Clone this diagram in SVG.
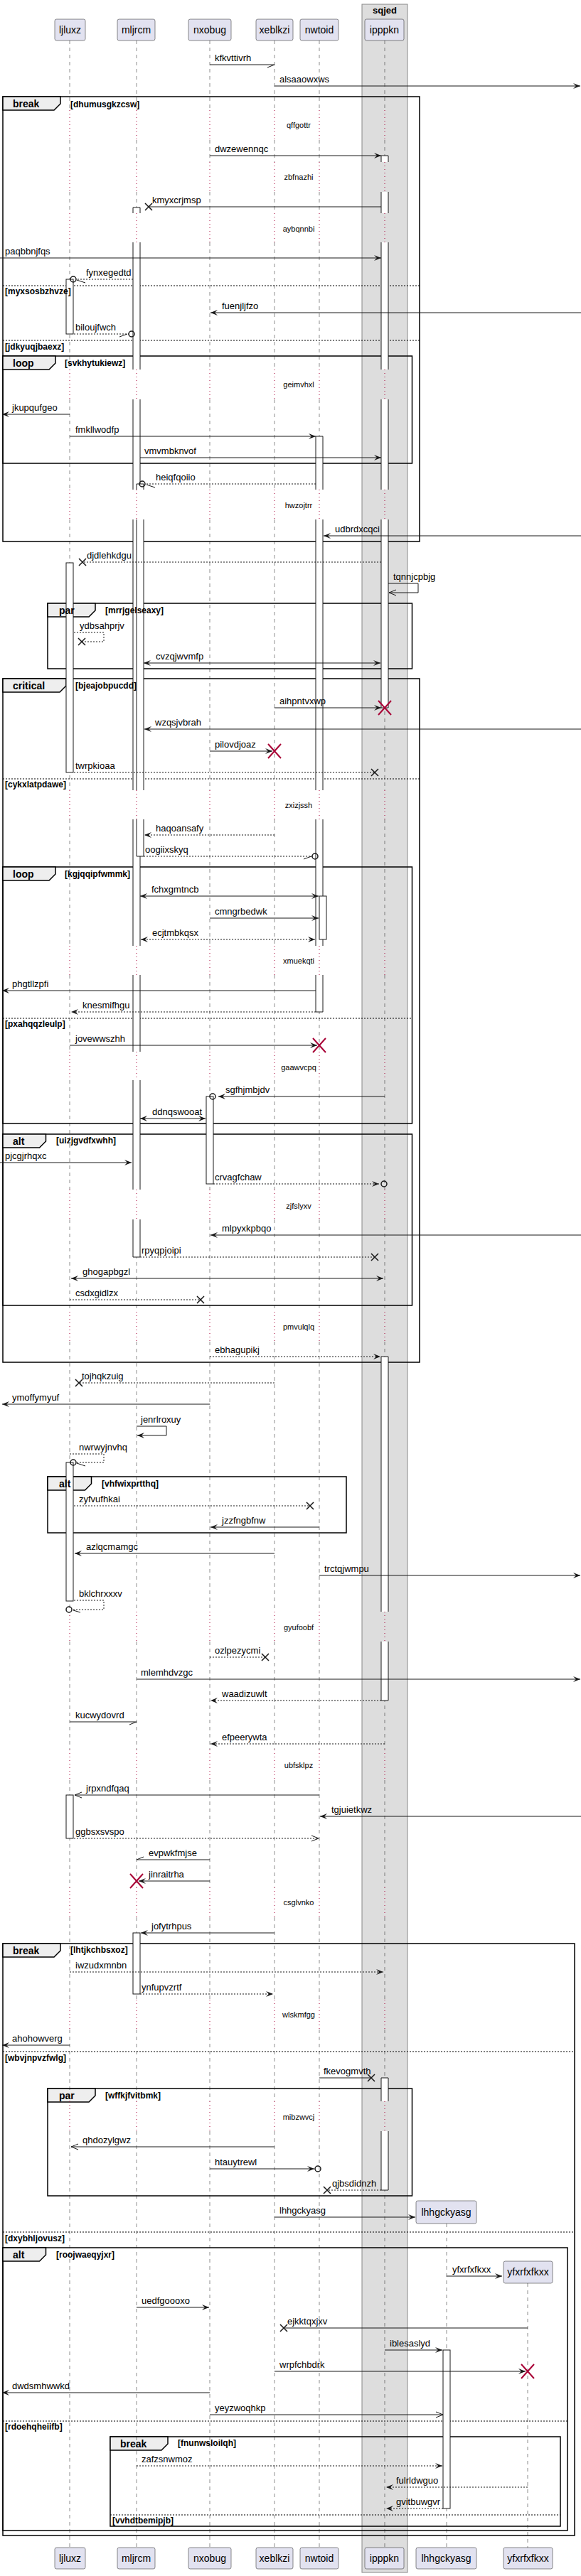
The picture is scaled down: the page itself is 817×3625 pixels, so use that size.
<svg xmlns="http://www.w3.org/2000/svg" xmlns:xlink="http://www.w3.org/1999/xlink" width="817" height="3625" viewBox="0 0 817 3625">
<style>
text{font-family:"Liberation Sans",Arial,sans-serif;font-size:13px;fill:#000}
.pt{font-size:14px;text-anchor:middle}
.dt{font-size:11px;text-anchor:middle}
.fl{font-size:14px;font-weight:bold}
.cd{font-size:12px;font-weight:bold}
.bt{font-size:13px;font-weight:bold;text-anchor:middle}
.p{fill:#E2E2F0;stroke:#181818;stroke-width:0.5}
.life{stroke:#181818;stroke-width:0.5;stroke-dasharray:5,5;fill:none}
.dly{stroke:#A80036;stroke-width:1;stroke-dasharray:1,4;fill:none}
.act{fill:#fff;stroke:#181818;stroke-width:1}
.af{fill:#fff;stroke:none}
.al{stroke:#181818;stroke-width:1;fill:none}
.m{stroke:#181818;stroke-width:1;fill:none}
.d{stroke-dasharray:2,2}
.fr{fill:none;stroke:#000;stroke-width:1.5}
.tab{fill:#EEEEEE;stroke:#000;stroke-width:1.5}
.el{stroke:#000;stroke-width:1;stroke-dasharray:2,2}
.x{stroke:#181818;stroke-width:1.5;fill:none}
.rx{stroke:#A80036;stroke-width:2;fill:none}
.o{fill:none;stroke:#181818;stroke-width:1.5}
</style>
<defs>
<marker id="fa" viewBox="0 0 10 8" refX="10" refY="4" markerWidth="10" markerHeight="8" markerUnits="userSpaceOnUse" orient="auto-start-reverse" overflow="visible"><path d="M0,0 L10,4 L0,8 L4,4 Z" fill="#181818"/></marker>
<marker id="oa" viewBox="0 0 10 8" refX="10" refY="4" markerWidth="10" markerHeight="8" markerUnits="userSpaceOnUse" orient="auto" overflow="visible"><path d="M0,0 L10,4 L0,8" fill="none" stroke="#181818" stroke-width="1"/></marker>
<marker id="ha" viewBox="0 0 10 8" refX="10" refY="4" markerWidth="10" markerHeight="8" markerUnits="userSpaceOnUse" orient="auto" overflow="visible"><path d="M0,8 L10,4" fill="none" stroke="#181818" stroke-width="1"/></marker>
<path id="ll" d="M0 57V155M0 197V228M0 270V300M0 341V520M0 562V689M0 731V1112M0 1153V1331M0 1372V1480M0 1520V1674M0 1716V1846M0 1888V2268M0 2310V2462M0 2505V2656M0 2698V2814M0 2856V2957M0 2999V3585"/>
<path id="dl" d="M0 155V197M0 228V270M0 300V341M0 520V562M0 689V731M0 1112V1153M0 1331V1372M0 1480V1520M0 1674V1716M0 1846V1888M0 2268V2310M0 2462V2505M0 2656V2698M0 2814V2856M0 2957V2999"/>
</defs>
<rect x="0" y="0" width="817" height="3625" fill="#fff"/>
<g id="box-sqjed">
<rect x="509" y="6" width="64" height="3614" fill="#DDDDDD" stroke="#888" stroke-width="1"/>
<text class="bt" x="541" y="19">sqjed</text>
</g>
<g id="frames">
<g id="f-break1">
<rect class="fr" x="4" y="136" width="586" height="626"/>
<path class="tab" d="M4 136H85V146L76 155H4Z"/>
<line class="el" x1="4" y1="402" x2="590" y2="402"/>
<line class="el" x1="4" y1="479" x2="590" y2="479"/>
</g>
<g id="f-loop1">
<rect class="fr" x="4" y="501" width="575.5" height="151"/>
<path class="tab" d="M4 501H78V511L69 520H4Z"/>
</g>
<g id="f-par1">
<rect class="fr" x="67" y="849" width="512.5" height="92"/>
<path class="tab" d="M67 849H134V859L125 868H67Z"/>
</g>
<g id="f-critical">
<rect class="fr" x="4" y="955" width="586" height="962"/>
<path class="tab" d="M4 955H93V965L84 974H4Z"/>
<line class="el" x1="4" y1="1096" x2="590" y2="1096"/>
</g>
<g id="f-loop2">
<rect class="fr" x="4" y="1220" width="575.5" height="361"/>
<path class="tab" d="M4 1220H78V1230L69 1239H4Z"/>
<line class="el" x1="4" y1="1433" x2="579.5" y2="1433"/>
</g>
<g id="f-alt1">
<rect class="fr" x="4" y="1596" width="575.5" height="241"/>
<path class="tab" d="M4 1596H64.5V1606L55.5 1615H4Z"/>
</g>
<g id="f-alt2">
<rect class="fr" x="67" y="2078" width="420" height="79"/>
<path class="tab" d="M67 2078H128.5V2088L119.5 2097H67Z"/>
</g>
<g id="f-break2">
<rect class="fr" x="4" y="2735" width="804" height="833"/>
<path class="tab" d="M4 2735H85V2745L76 2754H4Z"/>
<line class="el" x1="4" y1="2887" x2="808" y2="2887"/>
<line class="el" x1="4" y1="3141" x2="808" y2="3141"/>
</g>
<g id="f-par2">
<rect class="fr" x="67" y="2939" width="512.5" height="151"/>
<path class="tab" d="M67 2939H134V2949L125 2958H67Z"/>
</g>
<g id="f-alt3">
<rect class="fr" x="4" y="3163" width="794" height="398"/>
<path class="tab" d="M4 3163H64.5V3173L55.5 3182H4Z"/>
<line class="el" x1="4" y1="3407" x2="798" y2="3407"/>
</g>
<g id="f-break3">
<rect class="fr" x="155" y="3429" width="633" height="126"/>
<path class="tab" d="M155 3429H236V3439L227 3448H155Z"/>
<line class="el" x1="155" y1="3539" x2="788" y2="3539"/>
</g>
</g>
<g id="ljluxz">
<use href="#ll" x="98" class="life"/><use href="#dl" x="98" class="dly"/>
<rect class="p" x="77" y="27" width="43" height="30" rx="2.5"/><text class="pt" x="98.5" y="47">ljluxz</text>
<rect class="p" x="77" y="3585" width="43" height="30" rx="2.5"/><text class="pt" x="98.5" y="3605">ljluxz</text>
<rect class="act" x="93" y="393" width="10" height="77"/>
<rect class="act" x="93" y="792" width="10" height="295"/>
<rect class="act" x="93" y="2058" width="10" height="195"/>
<rect class="act" x="93" y="2526" width="10" height="61"/>
</g>
<g id="mljrcm">
<use href="#ll" x="192" class="life"/><use href="#dl" x="192" class="dly"/>
<rect class="p" x="165" y="27" width="53" height="30" rx="2.5"/><text class="pt" x="191.5" y="47">mljrcm</text>
<rect class="p" x="165" y="3585" width="53" height="30" rx="2.5"/><text class="pt" x="191.5" y="3605">mljrcm</text>
<rect class="af" x="187" y="292" width="10" height="8"/><rect class="af" x="187" y="341" width="10" height="179"/><rect class="af" x="187" y="562" width="10" height="127"/><rect class="af" x="187" y="731" width="10" height="381"/><rect class="af" x="187" y="1153" width="10" height="178"/><rect class="af" x="187" y="1372" width="10" height="108"/><rect class="af" x="187" y="1520" width="10" height="154"/><rect class="af" x="187" y="1716" width="10" height="53"/>
<path class="al" d="M187 292H197M187 292V300M197 292V300M187 341V520M197 341V520M187 562V689M197 562V689M187 731V1112M197 731V1112M187 1153V1331M197 1153V1331M187 1372V1480M197 1372V1480M187 1520V1674M197 1520V1674M187 1716V1769M197 1716V1769M187 1769H197"/>
<rect class="af" x="192" y="681" width="10" height="8"/><rect class="af" x="192" y="731" width="10" height="381"/><rect class="af" x="192" y="1153" width="10" height="52"/>
<path class="al" d="M192 681H202M192 681V689M202 681V689M192 731V1112M202 731V1112M192 1153V1205M202 1153V1205M192 1205H202"/>
<rect class="act" x="187" y="2720" width="10" height="86"/>
</g>
<g id="nxobug">
<use href="#ll" x="295" class="life"/><use href="#dl" x="295" class="dly"/>
<rect class="p" x="265" y="27" width="60" height="30" rx="2.5"/><text class="pt" x="295" y="47">nxobug</text>
<rect class="p" x="265" y="3585" width="60" height="30" rx="2.5"/><text class="pt" x="295" y="3605">nxobug</text>
<rect class="act" x="290" y="1543" width="10" height="123"/>
</g>
<g id="xeblkzi">
<use href="#ll" x="386" class="life"/><use href="#dl" x="386" class="dly"/>
<rect class="p" x="360" y="27" width="52" height="30" rx="2.5"/><text class="pt" x="386" y="47">xeblkzi</text>
<rect class="p" x="360" y="3585" width="52" height="30" rx="2.5"/><text class="pt" x="386" y="3605">xeblkzi</text>
</g>
<g id="nwtoid">
<use href="#ll" x="449" class="life"/><use href="#dl" x="449" class="dly"/>
<rect class="p" x="422" y="27" width="54" height="30" rx="2.5"/><text class="pt" x="449" y="47">nwtoid</text>
<rect class="p" x="422" y="3585" width="54" height="30" rx="2.5"/><text class="pt" x="449" y="3605">nwtoid</text>
<rect class="af" x="444" y="614" width="10" height="75"/><rect class="af" x="444" y="731" width="10" height="381"/><rect class="af" x="444" y="1153" width="10" height="178"/><rect class="af" x="444" y="1372" width="10" height="52"/>
<path class="al" d="M444 614H454M444 614V689M454 614V689M444 731V1112M454 731V1112M444 1153V1331M454 1153V1331M444 1372V1424M454 1372V1424M444 1424H454"/>
<rect class="act" x="449" y="1261" width="10" height="61"/>
</g>
<g id="ipppkn">
<use href="#ll" x="541" class="life"/><use href="#dl" x="541" class="dly"/>
<rect class="p" x="513" y="27" width="55" height="30" rx="2.5"/><text class="pt" x="540.5" y="47">ipppkn</text>
<rect class="p" x="513" y="3585" width="55" height="30" rx="2.5"/><text class="pt" x="540.5" y="3605">ipppkn</text>
<rect class="af" x="536" y="219" width="10" height="9"/><rect class="af" x="536" y="270" width="10" height="30"/><rect class="af" x="536" y="341" width="10" height="179"/><rect class="af" x="536" y="562" width="10" height="127"/><rect class="af" x="536" y="731" width="10" height="265"/>
<path class="al" d="M536 219H546M536 219V228M546 219V228M536 270V300M546 270V300M536 341V520M546 341V520M536 562V689M546 562V689M536 731V996M546 731V996M536 996H546"/>
<rect class="af" x="536" y="1909" width="10" height="359"/><rect class="af" x="536" y="2310" width="10" height="83"/>
<path class="al" d="M536 1909H546M536 1909V2268M546 1909V2268M536 2310V2393M546 2310V2393M536 2393H546"/>
<rect class="af" x="536" y="2924" width="10" height="33"/><rect class="af" x="536" y="2999" width="10" height="83"/>
<path class="al" d="M536 2924H546M536 2924V2957M546 2924V2957M536 2999V3082M546 2999V3082M536 3082H546"/>
</g>
<g id="lhhgckyasg">
<line class="life" x1="628" y1="3129" x2="628" y2="3585"/>
<rect class="p" x="585" y="3097" width="85" height="32" rx="2.5"/><text class="pt" x="627.5" y="3118">lhhgckyasg</text>
<rect class="p" x="585" y="3585" width="85" height="30" rx="2.5"/><text class="pt" x="627.5" y="3605">lhhgckyasg</text>
<rect class="act" x="623" y="3307" width="10" height="223"/>
</g>
<g id="yfxrfxfkxx">
<line class="life" x1="742" y1="3213" x2="742" y2="3585"/>
<rect class="p" x="708" y="3182" width="69" height="31" rx="2.5"/><text class="pt" x="742.5" y="3202">yfxrfxfkxx</text>
<rect class="p" x="708" y="3585" width="69" height="30" rx="2.5"/><text class="pt" x="742.5" y="3605">yfxrfxfkxx</text>
</g>
<g id="frame-labels">
<text class="fl" x="18" y="151">break</text><text class="cd" x="99" y="151">[dhumusgkzcsw]</text>
<text class="cd" x="7" y="414">[myxsosbzhvze]</text>
<text class="cd" x="7" y="492">[jdkyuqjbaexz]</text>
<text class="fl" x="18" y="516">loop</text><text class="cd" x="91" y="515">[svkhytukiewz]</text>
<text class="fl" x="83" y="864">par</text><text class="cd" x="148" y="863">[mrrjgelseaxy]</text>
<text class="fl" x="18" y="970">critical</text><text class="cd" x="106" y="969">[bjeajobpucdd]</text>
<text class="cd" x="7" y="1108">[cykxlatpdawe]</text>
<text class="fl" x="18" y="1235">loop</text><text class="cd" x="91" y="1234">[kgjqqipfwmmk]</text>
<text class="cd" x="7" y="1445">[pxahqqzleulp]</text>
<text class="fl" x="18" y="1611">alt</text><text class="cd" x="79" y="1609">[uizjgvdfxwhh]</text>
<text class="fl" x="83" y="2093">alt</text><text class="cd" x="143" y="2092">[vhfwixprtthq]</text>
<text class="fl" x="18" y="2750">break</text><text class="cd" x="99" y="2748">[lhtjkchbsxoz]</text>
<text class="cd" x="7" y="2900">[wbvjnpvzfwlg]</text>
<text class="cd" x="7" y="3154">[dxybhljovusz]</text>
<text class="fl" x="83" y="2954">par</text><text class="cd" x="148" y="2953">[wffkjfvitbmk]</text>
<text class="fl" x="18" y="3178">alt</text><text class="cd" x="79" y="3177">[roojwaeqyjxr]</text>
<text class="cd" x="7" y="3419">[rdoehqheiifb]</text>
<text class="fl" x="169" y="3444">break</text><text class="cd" x="250" y="3442">[fnunwsloilqh]</text>
<text class="cd" x="158" y="3551">[vvhdtbemipjb]</text>
</g>
<g id="delays">
<text class="dt" x="420" y="180">qffgottr</text>
<text class="dt" x="420" y="253">zbfnazhi</text>
<text class="dt" x="420" y="326">aybqnnbi</text>
<text class="dt" x="420" y="545">geimvhxl</text>
<text class="dt" x="420" y="715">hwzojtrr</text>
<text class="dt" x="420" y="1137">zxizjssh</text>
<text class="dt" x="420" y="1356">xmuekqti</text>
<text class="dt" x="420" y="1506">gaawvcpq</text>
<text class="dt" x="420" y="1701">zjfslyxv</text>
<text class="dt" x="420" y="1871">pmvulqlq</text>
<text class="dt" x="420" y="2294">gyufoobf</text>
<text class="dt" x="420" y="2488">ubfsklpz</text>
<text class="dt" x="420" y="2681">csglvnko</text>
<text class="dt" x="420" y="2839">wlskmfgg</text>
<text class="dt" x="420" y="2983">mibzwvcj</text>
</g>
<g id="connectors">
<line class="m" x1="295" y1="91" x2="386" y2="91" marker-end="url(#ha)"/><text x="302" y="86">kfkvttivrh</text>
<line class="m" x1="386" y1="121" x2="816" y2="121" marker-end="url(#fa)"/><text x="393" y="116">alsaaowxws</text>
<line class="m" x1="295" y1="219" x2="536" y2="219" marker-end="url(#fa)"/><text x="302" y="214">dwzewennqc</text>
<line class="m" x1="536" y1="291" x2="209" y2="291"/><path class="x" d="M204 286L214 296M204 296L214 286"/><text x="214" y="286">kmyxcrjmsp</text>
<line class="m" x1="0" y1="363" x2="536" y2="363" marker-end="url(#fa)"/><text x="7" y="358">paqbbnjfqs</text>
<line class="m d" x1="187" y1="393" x2="107" y2="393"/><circle class="o" cx="103" cy="393" r="4"/><path class="m" d="M108 394L120 398"/><text x="121" y="388">fynxegedtd</text>
<line class="m" x1="817" y1="440" x2="296" y2="440" marker-end="url(#fa)"/><text x="312" y="435">fuenjljfzo</text>
<line class="m d" x1="104" y1="470" x2="181" y2="470"/><path class="m" d="M168 474L179 470"/><circle class="o" cx="185" cy="470" r="4"/><text x="106" y="465">biloujfwch</text>
<line class="m" x1="98" y1="583" x2="3" y2="583" marker-end="url(#fa)"/><text x="17" y="578">jkupqufgeo</text>
<line class="m" x1="98" y1="614" x2="444" y2="614" marker-end="url(#fa)"/><text x="106" y="609">fmkllwodfp</text>
<line class="m" x1="197" y1="644" x2="536" y2="644" marker-end="url(#fa)"/><text x="203" y="639">vmvmbknvof</text>
<line class="m d" x1="444" y1="681" x2="204" y2="681"/><circle class="o" cx="200" cy="681" r="4"/><path class="m" d="M206 682L218 686"/><text x="219" y="676">heiqfqoiio</text>
<line class="m" x1="817" y1="754" x2="455" y2="754" marker-end="url(#fa)"/><text x="471" y="749">udbrdxcqci</text>
<line class="m d" x1="536" y1="791" x2="116" y2="791"/><path class="x" d="M111 786L121 796M111 796L121 786"/><text x="122" y="786">djdlehkdgu</text>
<polyline class="m" points="546,821 588,821 588,834 547,834" marker-end="url(#oa)"/><text x="553" y="816">tqnnjcpbjg</text>
<polyline class="m d" points="104,890 146,890 146,903 115,903"/><path class="x" d="M110 898L120 908M110 908L120 898"/><text x="112" y="885">ydbsahprjv</text>
<line class="m" x1="202" y1="933" x2="535" y2="933" marker-start="url(#fa)" marker-end="url(#fa)"/><text x="219" y="928">cvzqjwvmfp</text>
<line class="m" x1="386" y1="996" x2="536" y2="996" marker-end="url(#fa)"/><path class="rx" d="M532 986L550 1006M532 1006L550 986"/><text x="393" y="991">aihpntvxwp</text>
<line class="m" x1="817" y1="1026" x2="203" y2="1026" marker-end="url(#fa)"/><text x="218" y="1021">wzqsjvbrah</text>
<line class="m" x1="295" y1="1057" x2="383" y2="1057" marker-end="url(#fa)"/><path class="rx" d="M377 1047L395 1067M377 1067L395 1047"/><text x="302" y="1052">pilovdjoaz</text>
<line class="m d" x1="104" y1="1087" x2="527" y2="1087"/><path class="x" d="M522 1082L532 1092M522 1092L532 1082"/><text x="106" y="1082">twrpkioaa</text>
<line class="m d" x1="386" y1="1175" x2="203" y2="1175" marker-end="url(#fa)"/><text x="219" y="1170">haqoansafy</text>
<line class="m d" x1="202" y1="1205" x2="439" y2="1205"/><path class="m" d="M427 1209L438 1205"/><circle class="o" cx="443" cy="1205" r="4"/><text x="204" y="1200">oogiixskyq</text>
<line class="m" x1="197" y1="1261" x2="448" y2="1261" marker-start="url(#fa)" marker-end="url(#fa)"/><text x="213" y="1256">fchxgmtncb</text>
<line class="m" x1="295" y1="1292" x2="448" y2="1292" marker-end="url(#fa)"/><text x="302" y="1287">cmngrbedwk</text>
<line class="m d" x1="198" y1="1322" x2="443" y2="1322" marker-start="url(#fa)" marker-end="url(#fa)"/><text x="214" y="1317">ecjtmbkqsx</text>
<line class="m" x1="444" y1="1394" x2="3" y2="1394" marker-end="url(#fa)"/><text x="17" y="1389">phgtllzpfi</text>
<line class="m d" x1="444" y1="1424" x2="100" y2="1424" marker-end="url(#fa)"/><text x="116" y="1419">knesmifhgu</text>
<line class="m" x1="98" y1="1471" x2="446" y2="1471" marker-end="url(#fa)"/><path class="rx" d="M440 1461L458 1481M440 1481L458 1461"/><text x="106" y="1466">jovewwszhh</text>
<line class="m" x1="541" y1="1543" x2="307" y2="1543" marker-end="url(#fa)"/><circle class="o" cx="299" cy="1543" r="4"/><text x="317" y="1538">sgfhjmbjdv</text>
<line class="m" x1="197" y1="1574" x2="289" y2="1574" marker-start="url(#fa)" marker-end="url(#fa)"/><text x="214" y="1569">ddnqswooat</text>
<line class="m" x1="0" y1="1636" x2="185" y2="1636" marker-end="url(#fa)"/><text x="7" y="1631">pjcgjrhqxc</text>
<line class="m d" x1="300" y1="1666" x2="533" y2="1666" marker-end="url(#fa)"/><circle class="o" cx="540" cy="1666" r="4"/><text x="302" y="1661">crvagfchaw</text>
<line class="m" x1="817" y1="1738" x2="296" y2="1738" marker-end="url(#fa)"/><text x="312" y="1733">mlpyxkpbqo</text>
<line class="m d" x1="197" y1="1769" x2="527" y2="1769"/><path class="x" d="M522 1764L532 1774M522 1774L532 1764"/><text x="199" y="1764">rpyqpjoipi</text>
<line class="m" x1="100" y1="1799" x2="539" y2="1799" marker-start="url(#fa)" marker-end="url(#fa)"/><text x="116" y="1794">ghogapbgzl</text>
<line class="m d" x1="98" y1="1829" x2="282" y2="1829"/><path class="x" d="M277 1824L287 1834M277 1834L287 1824"/><text x="106" y="1824">csdxgidlzx</text>
<line class="m d" x1="295" y1="1909" x2="535" y2="1909" marker-end="url(#fa)"/><text x="302" y="1904">ebhagupikj</text>
<line class="m d" x1="386" y1="1946" x2="111" y2="1946"/><path class="x" d="M106 1941L116 1951M106 1951L116 1941"/><text x="115" y="1941">tojhqkzuig</text>
<line class="m" x1="295" y1="1976" x2="3" y2="1976" marker-end="url(#fa)"/><text x="17" y="1971">ymoffymyuf</text>
<polyline class="m" points="192,2007 234,2007 234,2020 193,2020" marker-end="url(#fa)"/><text x="198" y="2002">jenrlroxuy</text>
<polyline class="m d" points="98,2046 146,2046 146,2058 107,2058"/><circle class="o" cx="103" cy="2058" r="4"/><path class="m" d="M108 2059L120 2063"/><text x="111" y="2041">nwrwyjnvhq</text>
<line class="m d" x1="104" y1="2119" x2="436" y2="2119"/><path class="x" d="M431 2114L441 2124M431 2124L441 2114"/><text x="111" y="2114">zyfvufhkai</text>
<line class="m" x1="449" y1="2149" x2="296" y2="2149" marker-end="url(#fa)"/><text x="312" y="2144">jzzfngbfnw</text>
<line class="m" x1="386" y1="2186" x2="105" y2="2186" marker-end="url(#fa)"/><text x="121" y="2181">azlqcmamgc</text>
<line class="m" x1="449" y1="2217" x2="816" y2="2217" marker-end="url(#fa)"/><text x="456" y="2212">trctqjwmpu</text>
<polyline class="m d" points="104,2252 146,2252 146,2265 101,2265"/><circle class="o" cx="97" cy="2265" r="4"/><path class="m" d="M103 2266L113 2269"/><text x="111" y="2247">bklchrxxxv</text>
<line class="m d" x1="295" y1="2332" x2="373" y2="2332"/><path class="x" d="M368 2327L378 2337M368 2337L378 2327"/><text x="302" y="2327">ozlpezycmi</text>
<line class="m" x1="192" y1="2363" x2="816" y2="2363" marker-end="url(#fa)"/><text x="198" y="2358">mlemhdvzgc</text>
<line class="m d" x1="536" y1="2393" x2="296" y2="2393" marker-end="url(#fa)"/><text x="312" y="2388">waadizuwlt</text>
<line class="m" x1="98" y1="2423" x2="192" y2="2423" marker-end="url(#ha)"/><text x="106" y="2418">kucwydovrd</text>
<line class="m d" x1="541" y1="2454" x2="296" y2="2454" marker-end="url(#fa)"/><text x="312" y="2449">efpeerywta</text>
<line class="m" x1="449" y1="2526" x2="105" y2="2526" marker-end="url(#oa)"/><text x="121" y="2521">jrpxndfqaq</text>
<line class="m" x1="817" y1="2556" x2="450" y2="2556" marker-end="url(#fa)"/><text x="466" y="2551">tgjuietkwz</text>
<line class="m d" x1="104" y1="2587" x2="448" y2="2587" marker-end="url(#oa)"/><text x="106" y="2582">ggbsxsvspo</text>
<line class="m" x1="295" y1="2617" x2="192" y2="2617" marker-end="url(#ha)"/><text x="209" y="2612">evpwkfmjse</text>
<line class="m" x1="295" y1="2647" x2="195" y2="2647" marker-end="url(#fa)"/><path class="rx" d="M183 2637L201 2657M183 2657L201 2637"/><text x="209" y="2642">jinraitrha</text>
<line class="m" x1="386" y1="2720" x2="198" y2="2720" marker-end="url(#fa)"/><text x="213" y="2715">jofytrhpus</text>
<line class="m d" x1="98" y1="2775" x2="539" y2="2775" marker-end="url(#fa)"/><text x="106" y="2770">iwzudxmnbn</text>
<line class="m d" x1="197" y1="2806" x2="384" y2="2806" marker-end="url(#fa)"/><text x="199" y="2801">ynfupvzrtf</text>
<line class="m" x1="98" y1="2878" x2="3" y2="2878" marker-end="url(#fa)"/><text x="17" y="2873">ahohowverg</text>
<line class="m" x1="449" y1="2924" x2="522" y2="2924"/><path class="x" d="M517 2919L527 2929M517 2929L527 2919"/><text x="455" y="2919">fkevogmvth</text>
<line class="m" x1="386" y1="3021" x2="100" y2="3021" marker-end="url(#oa)"/><text x="116" y="3016">qhdozylgwz</text>
<line class="m" x1="295" y1="3052" x2="442" y2="3052" marker-end="url(#fa)"/><circle class="o" cx="447" cy="3052" r="4"/><text x="302" y="3047">htauytrewl</text>
<line class="m d" x1="536" y1="3082" x2="460" y2="3082"/><path class="x" d="M455 3077L465 3087M455 3087L465 3077"/><text x="467" y="3077">qjbsdidnzh</text>
<line class="m" x1="386" y1="3120" x2="584" y2="3120" marker-end="url(#fa)"/><text x="393" y="3115">lhhgckyasg</text>
<line class="m" x1="628" y1="3203" x2="706" y2="3203" marker-end="url(#fa)"/><text x="636" y="3198">yfxrfxfkxx</text>
<line class="m" x1="192" y1="3247" x2="294" y2="3247" marker-end="url(#fa)"/><text x="199" y="3242">uedfgoooxo</text>
<line class="m" x1="742" y1="3276" x2="399" y2="3276"/><path class="x" d="M394 3271L404 3281M394 3281L404 3271"/><text x="404" y="3271">ejkktqxjxv</text>
<line class="m" x1="541" y1="3307" x2="622" y2="3307" marker-end="url(#fa)"/><text x="548" y="3302">iblesaslyd</text>
<line class="m" x1="386" y1="3337" x2="739" y2="3337" marker-end="url(#fa)"/><path class="rx" d="M733 3327L751 3347M733 3347L751 3327"/><text x="393" y="3332">wrpfchbdrk</text>
<line class="m" x1="295" y1="3367" x2="3" y2="3367" marker-end="url(#fa)"/><text x="17" y="3362">dwdsmhwwkd</text>
<line class="m" x1="295" y1="3398" x2="623" y2="3398" marker-end="url(#oa)"/><text x="302" y="3393">yeyzwoqhkp</text>
<line class="m d" x1="192" y1="3470" x2="622" y2="3470" marker-end="url(#fa)"/><text x="199" y="3465">zafzsnwmoz</text>
<line class="m d" x1="742" y1="3500" x2="543" y2="3500" marker-end="url(#fa)"/><text x="557" y="3495">fulrldwguo</text>
<line class="m d" x1="623" y1="3530" x2="543" y2="3530" marker-end="url(#fa)"/><text x="557" y="3525">gvitbuwgvr</text>
</g>
</svg>
